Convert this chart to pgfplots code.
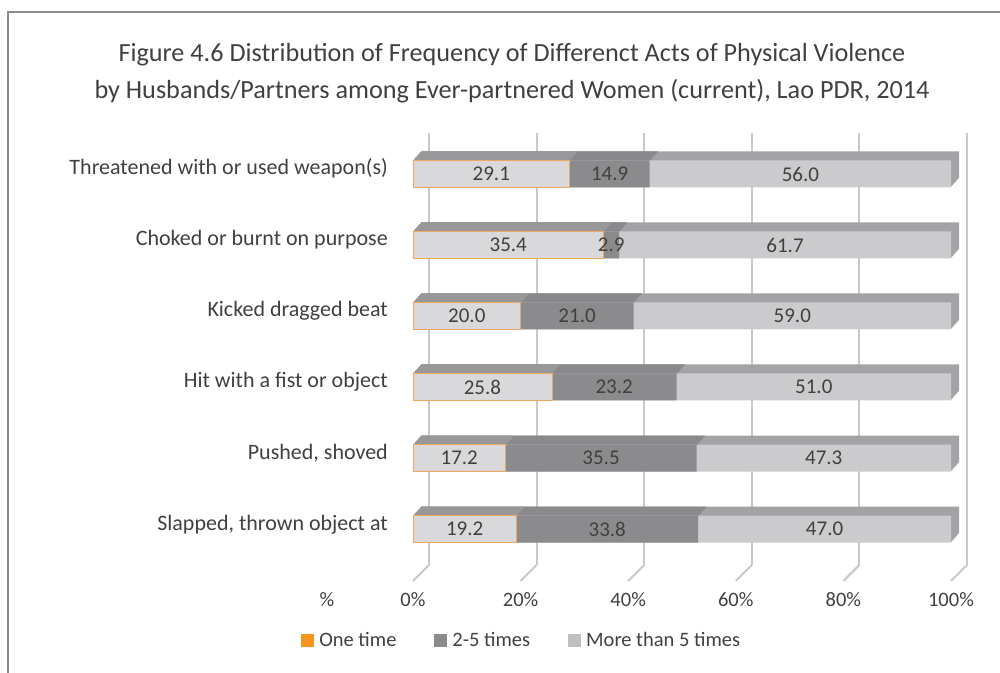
\documentclass[border=0pt]{standalone}
\usepackage{pgfplots}
\pgfplotsset{compat=1.18}
\usepackage{pgfplotstable}
\usepackage{fontspec}
\setmainfont{Carlito}
\definecolor{framec}{HTML}{8C8C8C}
\definecolor{gridc}{HTML}{C8C8CC}
\definecolor{txt}{HTML}{404040}
\definecolor{frontA}{HTML}{D9D9DB}
\definecolor{frontB}{HTML}{8B8B8D}
\definecolor{frontC}{HTML}{CBCBCD}
\definecolor{topA}{HTML}{9E9EA0}
\definecolor{topB}{HTML}{838385}
\definecolor{topC}{HTML}{A3A3A5}
\definecolor{edgeA}{HTML}{F0A860}
\definecolor{legA}{HTML}{F7941D}
\definecolor{legB}{HTML}{8B8B8D}
\definecolor{legC}{HTML}{BFBFC1}

\pgfplotstableread{
idx a b c
0 19.2 33.8 47.0
1 17.2 35.5 47.3
2 25.8 23.2 51.0
3 20.0 21.0 59.0
4 35.4 2.9 61.7
5 29.1 14.9 56.0
}\data

\begin{document}
\begin{tikzpicture}[x=1pt,y=1pt]
\draw[framec, line width=2.5pt] (8,660) rectangle (1015,-15);
\node[align=center, font=\fontsize{26.2}{37}\selectfont, text=txt] at (512,599)
  {Figure 4.6 Distribution of Frequency of Differenct Acts of Physical Violence\\
   by Husbands/Partners among Ever-partnered Women (current), Lao PDR, 2014};

% back wall with gridlines
\begin{axis}[at={(429pt,159pt)}, anchor=origin, x=5.38pt, y=71pt,
  xmin=0, xmax=100, ymin=-0.732, ymax=5.35,
  axis line style={draw=none}, tick style={draw=none},
  xtick={0,20,40,60,80,100}, xticklabels={}, ytick=\empty,
  xmajorgrids, major grid style={gridc, line width=2pt}]
\addplot[draw=none, forget plot] coordinates {(0,0)};
\end{axis}

% front
\begin{axis}[at={(413pt,143pt)}, anchor=origin, x=5.38pt, y=71pt,
  xmin=0, xmax=100, ymin=-0.732, ymax=5.35, clip=false,
  axis line style={draw=none}, tick style={draw=none},
  xtick={0,20,40,60,80,100},
  xticklabels={0\%,20\%,40\%,60\%,80\%,100\%},
  xticklabel style={anchor=center, yshift=-19pt, font=\fontsize{20.5}{24}\selectfont, text=txt},
  ytick={0,1,2,3,4,5},
  yticklabels={{Slapped, thrown object at},{Pushed, shoved\ },{Hit with a fist or object},{Kicked dragged beat},{Choked or burnt on purpose},{Threatened with or used weapon(s)}},
  yticklabel style={anchor=base east, inner sep=0pt, xshift=-25pt, yshift=-1pt, font=\fontsize{22}{24}\selectfont, text=txt},
  legend image code/.code={\fill[draw=none] (0pt,-6.5pt) rectangle (13pt,6.5pt);},
  legend style={at={(-0.208,-0.137)}, anchor=west, draw=none, fill=none, inner sep=0pt,
    legend columns=-1, font=\fontsize{20.5}{24}\selectfont, text=txt,
    /tikz/every odd column/.append style={column sep=3pt},
    /tikz/every even column/.append style={column sep=36pt}},
  ]
\pgfplotsinvokeforeach{0,20,40,60,80,100}{
  \draw[gridc, line width=2pt] (axis cs:#1,-0.732) -- ++(16pt,16pt);
}
\pgfplotsinvokeforeach{9,8,7,6,5,4,3,2,1}{
  \addplot[xbar, bar width=27pt, bar shift=0pt, fill=topC, draw=none, forget plot,
    xshift=#1*0.9pt, yshift=#1pt]
    table[x expr=\thisrow{a}+\thisrow{b}+\thisrow{c}, y=idx] {\data};
  \addplot[xbar, bar width=27pt, bar shift=0pt, fill=topB, draw=none, forget plot,
    xshift=#1*0.9pt, yshift=#1pt]
    table[x expr=\thisrow{a}+\thisrow{b}, y=idx] {\data};
  \addplot[xbar, bar width=27pt, bar shift=0pt, fill=topA, draw=none, forget plot,
    xshift=#1*0.9pt, yshift=#1pt]
    table[x=a, y=idx] {\data};
}
\addplot[xbar, bar width=27pt, bar shift=0pt, fill=frontC, draw=none, forget plot]
  table[x expr=\thisrow{a}+\thisrow{b}+\thisrow{c}, y=idx] {\data};
\addplot[xbar, bar width=27pt, bar shift=0pt, fill=frontB, draw=none, forget plot]
  table[x expr=\thisrow{a}+\thisrow{b}, y=idx] {\data};
\addplot[xbar, bar width=27pt, bar shift=0pt, fill=frontA, draw=edgeA, line width=0.5pt, forget plot]
  table[x=a, y=idx] {\data};
% value labels
\addplot[draw=none, mark=none, forget plot, nodes near coords, point meta=explicit symbolic,
  nodes near coords style={anchor=center, font=\fontsize{21}{24}\selectfont, text=txt}]
  table[x expr=\thisrow{a}/2, y=idx, meta=a] {\data};
\addplot[draw=none, mark=none, forget plot, nodes near coords, point meta=explicit symbolic,
  nodes near coords style={anchor=center, font=\fontsize{21}{24}\selectfont, text=txt}]
  table[x expr=\thisrow{a}+\thisrow{b}/2, y=idx, meta=b] {\data};
\addplot[draw=none, mark=none, forget plot, nodes near coords, point meta=explicit symbolic,
  nodes near coords style={anchor=center, font=\fontsize{21}{24}\selectfont, text=txt}]
  table[x expr=\thisrow{a}+\thisrow{b}+\thisrow{c}/2, y=idx, meta=c] {\data};
\node[font=\fontsize{20.5}{24}\selectfont, text=txt] at (axis cs:-16,-1) {\%};
\addlegendimage{fill=legA}\addlegendentry{One time}
\addlegendimage{fill=legB}\addlegendentry{2-5 times}
\addlegendimage{fill=legC}\addlegendentry{More than 5 times}
\end{axis}
\pgfresetboundingbox
\useasboundingbox (0,0) rectangle (1000,672);
\end{tikzpicture}
\end{document}
